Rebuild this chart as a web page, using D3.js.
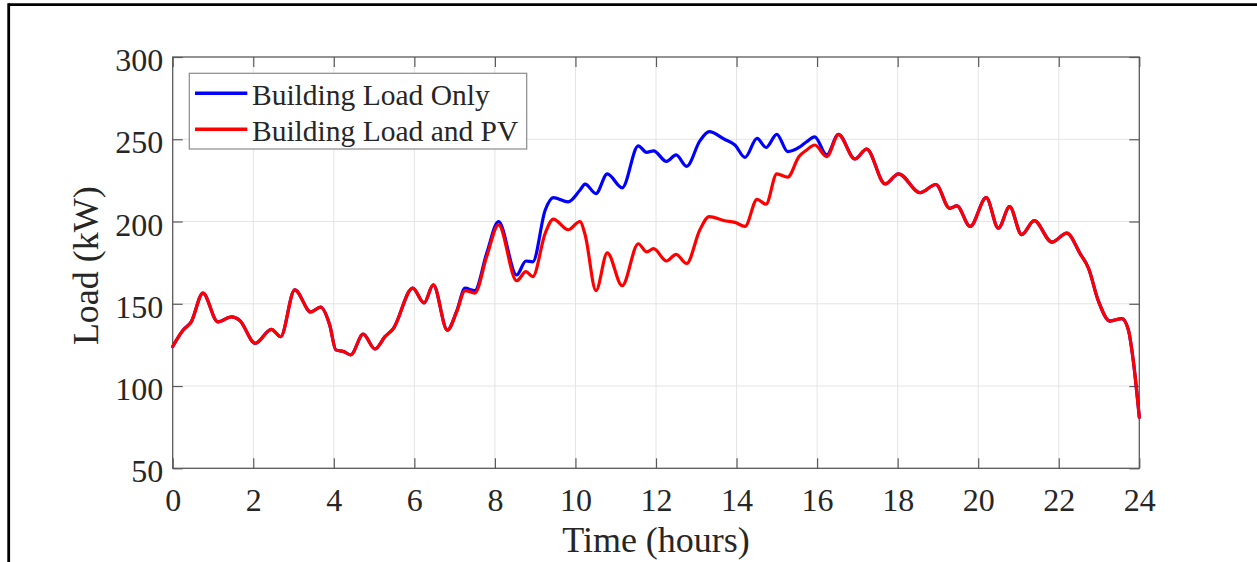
<!DOCTYPE html>
<html>
<head>
<meta charset="utf-8">
<script src="https://cdn.jsdelivr.net/npm/d3@7"></script>
<style>
  html, body { margin: 0; padding: 0; background: #fff; }
  svg { display: block; }
  text { font-family: "Liberation Serif", "Times New Roman", serif; fill: #262626; }
</style>
</head>
<body>
<svg id="chart" width="1257" height="562"></svg>
<script>
// Sample times (hours) and loads (kW) for one day
const hours = [0, 0.26, 0.46, 0.75, 1.12, 1.46, 1.66, 2.05, 2.45, 2.68, 3.03, 3.43, 3.67, 3.9,
  4.05, 4.24, 4.42, 4.73, 5.02, 5.27, 5.48, 5.96, 6.24, 6.47, 6.82, 7.05, 7.26, 7.5, 7.8,
  8.09, 8.54, 8.77, 8.94, 9.25, 9.45, 9.82, 10.11, 10.24, 10.51, 10.79, 11.16, 11.56, 11.77,
  11.94, 12.26, 12.5, 12.76, 13.09, 13.32, 13.7, 13.96, 14.21, 14.51, 14.73, 15.0, 15.27,
  15.55, 15.74, 15.94, 16.24, 16.53, 16.94, 17.23, 17.69, 18.02, 18.56, 18.95, 19.29, 19.47,
  19.8, 20.2, 20.5, 20.78, 21.08, 21.39, 21.83, 22.2, 22.53, 22.74, 22.98, 23.27, 23.57,
  23.73, 23.85, 24];

const loadOnly = [124, 134, 139, 156.5, 139, 142, 140, 126, 134.5, 130, 158.5, 145, 148, 137,
  122, 121, 119, 131.5, 122.5, 130, 135, 159.5, 150.5, 161.5, 134, 145.5, 159.5, 158, 181,
  200, 167.5, 176, 175.5, 207, 214.5, 212, 219, 222.7, 217, 229, 220.5, 246, 242,
  243, 236.5, 240.5, 233.5, 249, 254.6, 250, 246.5, 239, 250.5, 245, 253, 242.5,
  245, 248.5, 251.5, 240.5, 253, 238, 244, 222.8, 229, 217.5, 222.5, 208, 209.5,
  197, 214.5, 196, 209, 192, 200.5, 187.5, 193, 180.5, 171.5, 152, 139.5, 141,
  134, 115.5, 81];

const loadPV = [124, 134, 139, 156.5, 139, 142, 140, 126, 134.5, 130, 158.5, 145, 148, 137,
  122, 121, 119, 131.5, 122.5, 130, 135, 159.5, 150.5, 161.5, 134, 145, 158, 156.5, 179,
  198, 164, 169.5, 166.5, 193, 201.5, 195, 200, 192, 158, 181, 161, 186.5, 181.5,
  183.5, 176, 180, 174.5, 195, 203, 200.5, 199.5, 197, 213.5, 210.5, 229, 227,
  239.5, 243.5, 246.5, 239.5, 252.8, 238, 244, 222.8, 229, 217.5, 222.5, 208, 209.5,
  197, 214.5, 196, 209, 192, 200.5, 187.5, 193, 180.5, 171.5, 152, 139.5, 141,
  134, 115.5, 81];

const xTicks = [0, 2, 4, 6, 8, 10, 12, 14, 16, 18, 20, 22, 24];
const yTicks = [50, 100, 150, 200, 250, 300];
const seriesNames = ["Building Load Only", "Building Load and PV"];
const seriesColors = ["#0000ff", "#ff0000"];

const svg = d3.select("#chart");
const W = 1257, H = 562;
const plot = { left: 172.7, right: 1139.3, top: 57, bottom: 468.3 };

const x = d3.scaleLinear().domain([0, 24]).range([plot.left, plot.right]);
const y = d3.scaleLinear().domain([50, 300]).range([plot.bottom, plot.top]);

// Figure frame (top and left edges)
svg.append("line").attr("x1", 8.7).attr("x2", W).attr("y1", 4.7).attr("y2", 4.7)
  .attr("stroke", "#000").attr("stroke-width", 2.8);
svg.append("line").attr("x1", 8.7).attr("x2", 8.7).attr("y1", 3.3).attr("y2", H)
  .attr("stroke", "#000").attr("stroke-width", 2.8);

// Grid
const grid = svg.append("g").attr("stroke", "#e4e4e4").attr("stroke-width", 1);
grid.selectAll(".gx").data(xTicks.slice(1, -1)).join("line")
  .attr("x1", d => x(d)).attr("x2", d => x(d)).attr("y1", plot.top).attr("y2", plot.bottom);
grid.selectAll(".gy").data(yTicks.slice(1, -1)).join("line")
  .attr("x1", plot.left).attr("x2", plot.right).attr("y1", d => y(d)).attr("y2", d => y(d));

// Axes with inward ticks on all four sides
const axisColor = "#5a5a5a";
function styleAxis(g) {
  g.select(".domain").remove();
  g.selectAll(".tick line").attr("stroke", axisColor).attr("stroke-width", 1.2);
}
svg.append("g").attr("transform", `translate(0,${plot.bottom})`)
  .call(d3.axisBottom(x).tickValues(xTicks).tickSize(-10).tickFormat(d3.format("d")))
  .call(styleAxis)
  .call(g => g.selectAll(".tick text").attr("y", 42.4).attr("dy", 0)
    .attr("font-size", 32).attr("fill", "#262626")
    .attr("font-family", "Liberation Serif, Times New Roman, serif"));
svg.append("g").attr("transform", `translate(0,${plot.top})`)
  .call(d3.axisTop(x).tickValues(xTicks).tickSize(-10).tickFormat(""))
  .call(styleAxis);
svg.append("g").attr("transform", `translate(${plot.left},0)`)
  .call(d3.axisLeft(y).tickValues(yTicks).tickSize(-10).tickFormat(d3.format("d")))
  .call(styleAxis)
  .call(g => g.selectAll(".tick text").attr("x", -9.5).attr("dy", 13.5)
    .attr("text-anchor", "end").attr("font-size", 32).attr("fill", "#262626")
    .attr("font-family", "Liberation Serif, Times New Roman, serif"));
svg.append("g").attr("transform", `translate(${plot.right},0)`)
  .call(d3.axisRight(y).tickValues(yTicks).tickSize(-10).tickFormat(""))
  .call(styleAxis);

// Axes box
svg.append("rect")
  .attr("x", plot.left).attr("y", plot.top)
  .attr("width", plot.right - plot.left).attr("height", plot.bottom - plot.top)
  .attr("fill", "none").attr("stroke", axisColor).attr("stroke-width", 1.3);

// Series lines
const line = d3.line()
  .x((d, i) => x(hours[i]))
  .y(d => y(d))
  .curve(d3.curveMonotoneX);

const series = [loadOnly, loadPV];
svg.append("g").selectAll("path").data(series).join("path")
  .attr("d", d => line(d))
  .attr("fill", "none")
  .attr("stroke", (d, i) => seriesColors[i])
  .attr("stroke-width", 3.2)
  .attr("stroke-linejoin", "round")
  .attr("stroke-linecap", "round");

// Axis labels
svg.append("text")
  .attr("x", (plot.left + plot.right) / 2).attr("y", 551.7)
  .attr("text-anchor", "middle").attr("font-size", 36)
  .text("Time (hours)");
svg.append("text")
  .attr("transform", `translate(97.5,${(plot.top + plot.bottom) / 2 + 3}) rotate(-90)`)
  .attr("text-anchor", "middle").attr("font-size", 36)
  .text("Load (kW)");

// Legend
const legend = svg.append("g");
legend.append("rect")
  .attr("x", 189.3).attr("y", 73.3).attr("width", 337.4).attr("height", 75.7)
  .attr("fill", "#fff").attr("stroke", "#8a8a8a").attr("stroke-width", 1.2);
const rowsY = [93.3, 129.3];
seriesNames.forEach((name, i) => {
  legend.append("line")
    .attr("x1", 195).attr("x2", 247.3).attr("y1", rowsY[i]).attr("y2", rowsY[i])
    .attr("stroke", seriesColors[i]).attr("stroke-width", 3.4);
  legend.append("text")
    .attr("x", 252).attr("y", rowsY[i] + 11.3)
    .attr("font-size", 29.5)
    .text(name);
});
</script>
</body>
</html>
